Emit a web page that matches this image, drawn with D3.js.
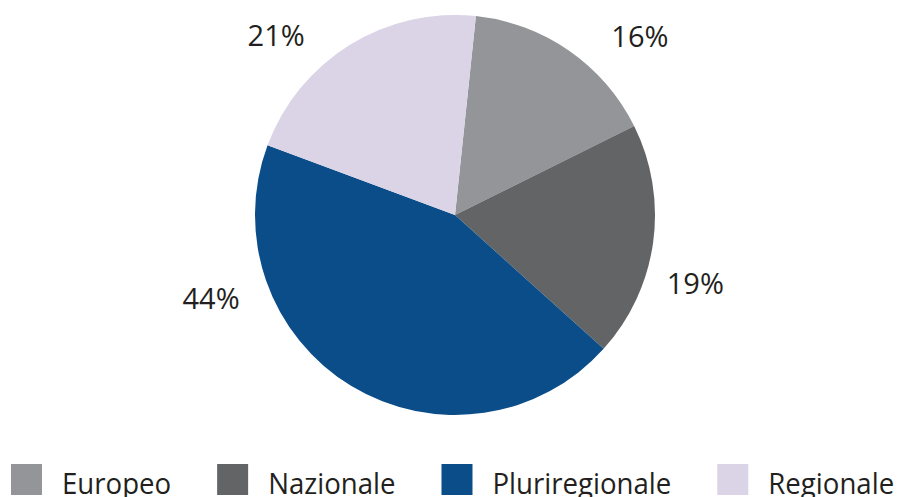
<!DOCTYPE html>
<html>
<head>
<meta charset="utf-8">
<script src="https://cdn.jsdelivr.net/npm/d3@7"></script>
<style>
  body { margin: 0; background: #fff; }
  svg text { fill: #231f20; }
</style>
</head>
<body>
<div id="chart"></div>
<script>
// data
const categories = ["Europeo", "Nazionale", "Pluriregionale", "Regionale"];
const shares = [16, 19, 44, 21];
const colours = ["#939598", "#636466", "#0b4d89", "#dbd3e6"];

// label placement (angle from top in degrees, distance from centre)
const labelAngle = [46, 106, 251, 315];
const labelDist = [257, 250, 258, 253];

const width = 900, height = 497;
const cx = 455, cy = 215, R = 200;
const startAngle = 6 * Math.PI / 180;

const svg = d3.select("#chart").append("svg")
  .attr("width", width)
  .attr("height", height);

const data = categories.map((c, i) => ({ cat: c, value: shares[i], colour: colours[i], i }));

const pie = d3.pie()
  .sort(null)
  .value(d => d.value)
  .startAngle(startAngle)
  .endAngle(startAngle + 2 * Math.PI);

const arc = d3.arc().innerRadius(0).outerRadius(R);

const g = svg.append("g").attr("transform", `translate(${cx},${cy})`);

g.selectAll("path")
  .data(pie(data))
  .join("path")
  .attr("d", arc)
  .attr("fill", d => d.data.colour);

// percentage labels
g.selectAll(".lbl")
  .data(pie(data))
  .join("text")
  .attr("class", "lbl")
  .attr("x", d => labelDist[d.data.i] * Math.sin(labelAngle[d.data.i] * Math.PI / 180))
  .attr("y", d => -labelDist[d.data.i] * Math.cos(labelAngle[d.data.i] * Math.PI / 180))
  .attr("text-anchor", "middle")
  .attr("dy", "0.35em")
  .style("font-family", "'Open Sans', 'Noto Sans', sans-serif")
  .style("font-size", "29px")
  .text(d => d.data.value + "%");

// legend - laid out one after the other, text squeezed to look condensed
const leg = svg.selectAll(".leg")
  .data(data)
  .join("g")
  .attr("class", "leg");

leg.append("rect")
  .attr("width", 31)
  .attr("height", 31)
  .attr("fill", d => d.colour);

const legText = leg.append("text")
  .attr("x", 51)
  .attr("y", 30)
  .style("font-family", "'Open Sans', 'Noto Sans', sans-serif")
  .style("font-size", "30px")
  .text(d => d.cat);

let lx = 11;
legText.each(function(d) {
  const w = this.getComputedTextLength() * 0.92;
  d3.select(this).attr("textLength", w).attr("lengthAdjust", "spacingAndGlyphs");
  d3.select(this.parentNode).attr("transform", `translate(${lx},464)`);
  lx += 51 + w + 46;
});
</script>
</body>
</html>
